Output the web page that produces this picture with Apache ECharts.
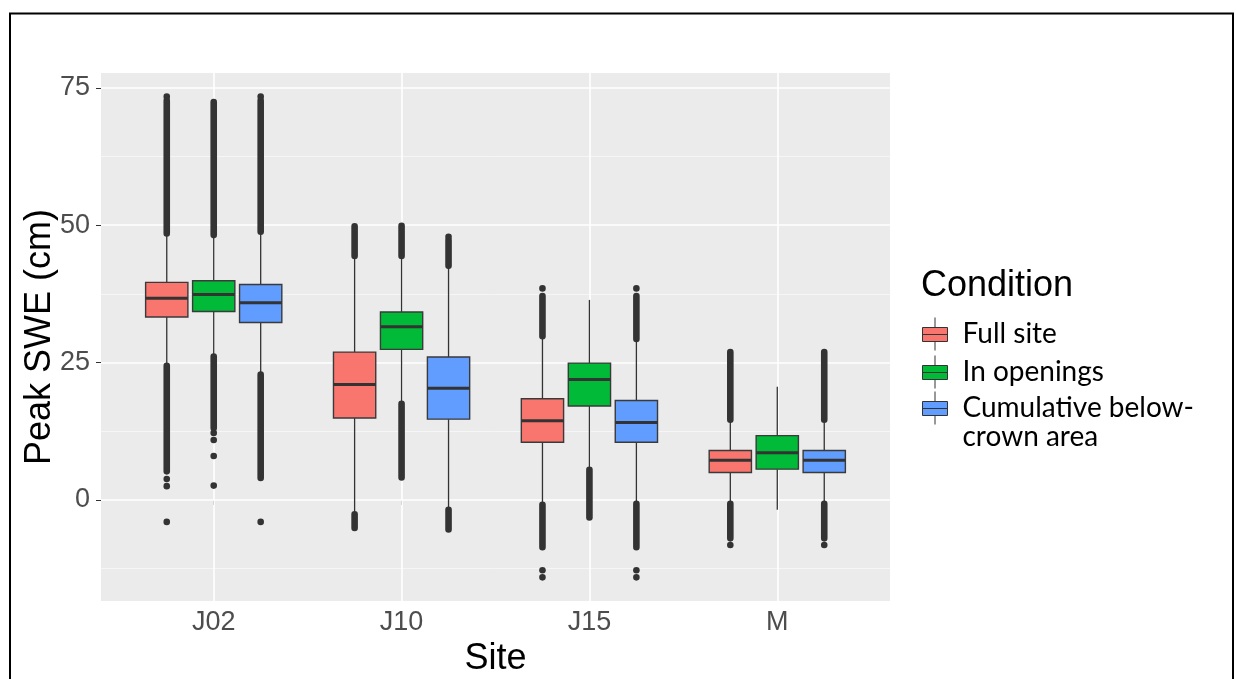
<!DOCTYPE html>
<html>
<head>
<meta charset="utf-8">
<script src="https://cdn.jsdelivr.net/npm/echarts@6/dist/echarts.min.js"></script>
<style>
  html, body { margin: 0; padding: 0; background: #fff; }
  #chart { width: 1236px; height: 679px; }
</style>
</head>
<body>
<div id="chart"></div>
<script>
const sites = ['J02', 'J10', 'J15', 'M'];
const conditions = ['Full site', 'In openings', 'Cumulative below-\ncrown area'];
const colors = ['#F8766D', '#00BA38', '#619CFF'];

// [lower whisker, Q1, median, Q3, upper whisker] for each site
const fullSite = [
  [24.4, 33.3, 36.7, 39.6, 48.5],
  [-2.6, 14.9, 21.0, 26.9, 44.4],
  [-0.9, 10.5, 14.4, 18.4, 29.8],
  [-0.7, 5.0, 7.2, 9.0, 14.6]
];
const inOpenings = [
  [26.1, 34.3, 37.4, 39.9, 48.2],
  [17.5, 27.4, 31.5, 34.2, 44.4],
  [5.5, 17.1, 21.9, 24.9, 36.4],
  [-1.8, 5.6, 8.6, 11.7, 20.6]
];
const belowCrown = [
  [22.8, 32.3, 35.9, 39.2, 48.8],
  [-1.8, 14.7, 20.3, 26.0, 42.6],
  [-0.7, 10.5, 14.1, 18.1, 29.3],
  [-0.7, 5.0, 7.2, 9.0, 14.6]
];

// outliers: [site index, from, to]; runs of overlapping points, from == to is one point
const fullSiteOut = [
  [0, 48.5, 72.7], [0, 73.4, 73.4], [0, 5.2, 24.4], [0, 3.8, 3.8], [0, 2.5, 2.5], [0, -4.0, -4.0],
  [1, 44.4, 49.8], [1, -5.1, -2.6],
  [2, 29.8, 37.1], [2, 38.5, 38.5], [2, -8.6, -0.9], [2, -12.8, -12.8], [2, -14.1, -14.1],
  [3, 14.6, 26.9], [3, -7.0, -0.7], [3, -8.2, -8.2]
];
const inOpeningsOut = [
  [0, 48.2, 72.4], [0, 13.1, 26.1], [0, 12.2, 12.2], [0, 10.9, 10.9], [0, 8.0, 8.0], [0, 2.6, 2.6],
  [1, 44.4, 49.9], [1, 4.1, 17.5],
  [2, -3.2, 5.5]
];
const belowCrownOut = [
  [0, 48.8, 72.7], [0, 73.4, 73.4], [0, 4.0, 22.8], [0, -4.0, -4.0],
  [1, 42.6, 47.3], [1, 47.9, 47.9], [1, -5.4, -1.8],
  [2, 29.3, 37.1], [2, 38.5, 38.5], [2, -8.6, -0.7], [2, -12.8, -12.8], [2, -14.1, -14.1],
  [3, 14.6, 26.9], [3, -7.0, -0.7], [3, -8.2, -8.2]
];

const majorBreaks = [0, 25, 50, 75];
const minorBreaks = [-12.5, 12.5, 37.5, 62.5];
const yMin = -18.4, yMax = 77.7;

const dodge = [-0.25, 0, 0.25];
const boxWidth = 0.225;
const ink = '#333333';

var chart = echarts.init(document.getElementById('chart'));

function boxSeries(idx, rows) {
  return {
    name: conditions[idx],
    type: 'custom',
    xAxisIndex: 0,
    yAxisIndex: 0,
    z: 3,
    itemStyle: { color: colors[idx] },
    data: rows.map(function (r, i) { return [i].concat(r); }),
    renderItem: function (params, api) {
      const band = api.size([1, 0])[0];
      const x = api.coord([api.value(0), 0])[0] + dodge[idx] * band;
      const half = band * boxWidth / 2;
      const y = function (d) { return api.coord([api.value(0), api.value(d)])[1]; };
      const lo = y(1), q1 = y(2), med = y(3), q3 = y(4), hi = y(5);
      return {
        type: 'group',
        children: [
          { type: 'line', shape: { x1: x, y1: q3, x2: x, y2: hi }, style: { stroke: ink, lineWidth: 1.3 } },
          { type: 'line', shape: { x1: x, y1: q1, x2: x, y2: lo }, style: { stroke: ink, lineWidth: 1.3 } },
          { type: 'rect', shape: { x: x - half, y: q3, width: half * 2, height: q1 - q3 },
            style: { fill: colors[idx], stroke: '#3a3a3a', lineWidth: 1.4 } },
          { type: 'line', shape: { x1: x - half, y1: med, x2: x + half, y2: med }, style: { stroke: ink, lineWidth: 3 } }
        ]
      };
    }
  };
}

function outlierSeries(idx, rows) {
  return {
    type: 'custom',
    xAxisIndex: 0,
    yAxisIndex: 0,
    z: 4,
    silent: true,
    data: rows,
    renderItem: function (params, api) {
      const band = api.size([1, 0])[0];
      const x = api.coord([api.value(0), 0])[0] + dodge[idx] * band;
      const top = api.coord([api.value(0), api.value(2)])[1];
      const bot = api.coord([api.value(0), api.value(1)])[1];
      const r = 3.3;
      return {
        type: 'rect',
        shape: { x: x - r, y: top - r, width: r * 2, height: bot - top + r * 2, r: r },
        style: { fill: ink }
      };
    }
  };
}

const keyIcon = 'path://M0,10L25,10L25,24L0,24Z M12.5,0L12.5,10 M12.5,24L12.5,33 M0,17L25,17';
const tickFont = { fontFamily: 'Liberation Sans', fontSize: 27, color: '#4D4D4D' };

function legendBlock(names, top, formatter) {
  return {
    orient: 'vertical',
    left: 922,
    top: top,
    padding: 0,
    itemGap: 4,
    itemWidth: 25,
    itemHeight: 33,
    selectedMode: false,
    formatter: formatter,
    itemStyle: { borderColor: ink, borderWidth: 1 },
    textStyle: { fontFamily: 'Lato', fontSize: 28, color: '#000', lineHeight: 29, padding: [0, 0, 0, 10] },
    data: names.map(function (c) { return { name: c, icon: keyIcon }; })
  };
}

var option = {
  animation: false,
  backgroundColor: '#ffffff',
  title: {
    text: 'Condition',
    left: 921,
    top: 268,
    padding: 0,
    textStyle: { fontFamily: 'Liberation Sans', fontSize: 36, fontWeight: 'normal', color: '#000' }
  },
  // the two-line key sits in its own block; an empty leading line keeps
  // its key level with the first text line
  legend: [
    legendBlock(conditions.slice(0, 2), 317, '{name}'),
    legendBlock(conditions.slice(2), 364.5, function (name) { return '\n' + name; })
  ],
  graphic: [{
    type: 'rect',
    silent: true,
    shape: { x: 10, y: 13.5, width: 1223, height: 700 },
    style: { fill: 'none', stroke: '#000', lineWidth: 2 }
  }],
  grid: [
    { left: 119.79, right: 364.79, top: 73, bottom: 78, outerBoundsMode: 'none' },
    { left: 101, right: 346, top: 73, bottom: 78, show: true, backgroundColor: '#EBEBEB',
      borderWidth: 0, outerBoundsMode: 'none' }
  ],
  xAxis: [
    {
      gridIndex: 0,
      type: 'category',
      data: sites,
      axisLine: { show: false },
      axisTick: { show: true, alignWithLabel: true, length: 5, lineStyle: { color: ink, width: 1 } },
      axisLabel: Object.assign({ margin: 8 }, tickFont),
      splitLine: { show: false },
      name: 'Site',
      nameLocation: 'middle',
      nameGap: 40,
      nameMoveOverlap: false,
      nameTextStyle: { fontFamily: 'Liberation Sans', fontSize: 36, color: '#000' }
    },
    { gridIndex: 1, type: 'value', min: 0, max: 1, show: false }
  ],
  yAxis: [
    { gridIndex: 0, type: 'value', min: yMin, max: yMax, show: false },
    {
      gridIndex: 1,
      type: 'value',
      min: yMin,
      max: yMax,
      axisLine: { show: false },
      axisTick: { show: true, length: 5, customValues: majorBreaks, lineStyle: { color: ink, width: 1 } },
      axisLabel: Object.assign({ margin: 11, customValues: majorBreaks }, tickFont),
      splitLine: { show: false },
      name: 'Peak SWE (cm)',
      nameLocation: 'middle',
      nameGap: 43,
      nameMoveOverlap: false,
      nameTextStyle: { fontFamily: 'Liberation Sans', fontSize: 36, color: '#000' }
    }
  ],
  series: [
    {
      type: 'line',
      xAxisIndex: 1,
      yAxisIndex: 1,
      data: [],
      silent: true,
      markLine: {
        z: 1,
        silent: true,
        symbol: ['none', 'none'],
        label: { show: false },
        data: minorBreaks.map(function (v) {
          return { yAxis: v, lineStyle: { color: '#F7F7F7', width: 0.9, type: 'solid' } };
        }).concat(majorBreaks.map(function (v) {
          return { yAxis: v, lineStyle: { color: '#FFFFFF', width: 1.6, type: 'solid' } };
        }))
      }
    },
    {
      type: 'line',
      xAxisIndex: 0,
      yAxisIndex: 0,
      data: [],
      silent: true,
      markLine: {
        z: 1,
        silent: true,
        symbol: ['none', 'none'],
        label: { show: false },
        data: sites.map(function (s) {
          return { xAxis: s, lineStyle: { color: '#FFFFFF', width: 1.6, type: 'solid' } };
        })
      }
    },
    boxSeries(0, fullSite),
    boxSeries(1, inOpenings),
    boxSeries(2, belowCrown),
    outlierSeries(0, fullSiteOut),
    outlierSeries(1, inOpeningsOut),
    outlierSeries(2, belowCrownOut)
  ]
};

option && chart.setOption(option);
</script>
</body>
</html>
